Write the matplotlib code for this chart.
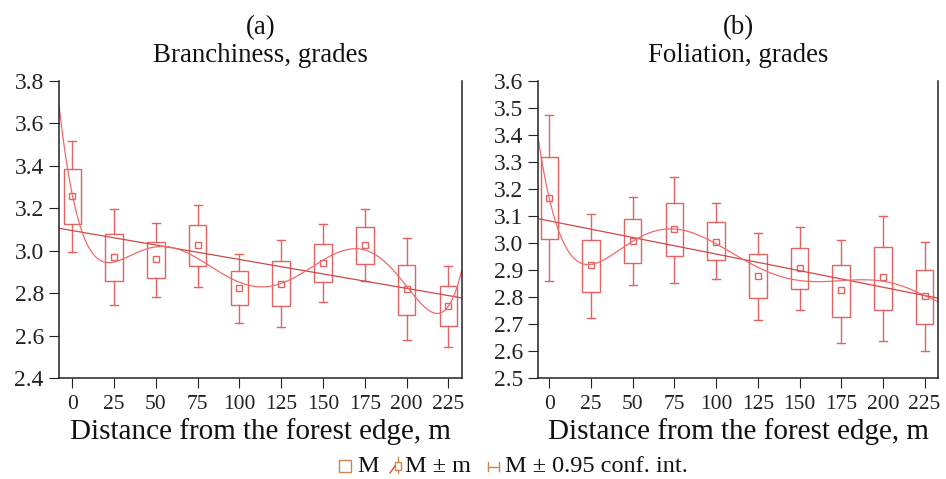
import numpy as np
import matplotlib
matplotlib.use("Agg")
import matplotlib.pyplot as plt
from matplotlib.lines import Line2D
from matplotlib.patches import Rectangle

plt.rcParams['font.family'] = ['Liberation Serif', 'DejaVu Serif']

dist = [0, 25, 50, 75, 100, 125, 150, 175, 200, 225]

# (a) branchiness: mean, mean +- se, mean +- 0.95 ci
a_mean = [3.257, 2.972, 2.960, 3.025, 2.826, 2.845, 2.944, 3.025, 2.820, 2.740]
a_se_lo = [3.126, 2.859, 2.869, 2.928, 2.742, 2.738, 2.850, 2.938, 2.698, 2.644]
a_se_hi = [3.386, 3.080, 3.043, 3.119, 2.903, 2.949, 3.033, 3.110, 2.934, 2.833]
a_ci_lo = [2.996, 2.745, 2.782, 2.831, 2.660, 2.638, 2.757, 2.856, 2.577, 2.546]
a_ci_hi = [3.516, 3.196, 3.130, 3.214, 2.986, 3.052, 3.126, 3.195, 3.058, 2.928]

# (b) foliation
b_mean = [3.166, 2.918, 3.009, 3.051, 3.005, 2.879, 2.907, 2.825, 2.872, 2.803]
b_se_lo = [3.013, 2.820, 2.926, 2.952, 2.935, 2.797, 2.829, 2.726, 2.753, 2.701]
b_se_hi = [3.319, 3.010, 3.090, 3.148, 3.077, 2.959, 2.982, 2.919, 2.984, 2.899]
b_ci_lo = [2.858, 2.721, 2.845, 2.853, 2.865, 2.716, 2.751, 2.631, 2.637, 2.598]
b_ci_hi = [3.475, 3.106, 3.172, 3.244, 3.148, 3.038, 3.060, 3.012, 3.101, 3.003]

red = '#e06464'
fitred = '#d04848'
curvered = '#f06a6a'
orange = '#c8864a'


def panel(ax, mean, se_lo, se_hi, ci_lo, ci_hi, ylim, yticks, xlim, letter, name):
    x = np.array(dist, dtype=float)
    w = 10.5
    for xi, m, sl, sh, cl, ch in zip(x, mean, se_lo, se_hi, ci_lo, ci_hi):
        ax.add_patch(Rectangle((xi - w / 2, sl), w, sh - sl, fill=False,
                               ec=red, lw=1.0))
        ax.plot([xi, xi], [sh, ch], color=red, lw=1.0)
        ax.plot([xi, xi], [cl, sl], color=red, lw=1.0)
        ax.plot([xi - 2.4, xi + 2.4], [ch, ch], color=red, lw=1.0)
        ax.plot([xi - 2.4, xi + 2.4], [cl, cl], color=red, lw=1.0)
    ax.plot(x, mean, 's', ms=4.5, mfc='none', mec=red, mew=1.0)

    xx = np.linspace(xlim[0], xlim[1], 400)
    k = np.polyfit(x, mean, 1)
    ax.plot(xx, np.polyval(k, xx), color=fitred, lw=0.9)
    p = np.polyfit(x, mean, 6)
    ax.plot(xx, np.polyval(p, xx), color=curvered, lw=0.9)

    ax.set_xlim(xlim)
    ax.set_ylim(ylim)
    ax.set_yticks(yticks)
    ax.set_yticklabels([f'{t:.1f}' for t in yticks])
    ax.set_xticks(dist)
    ax.spines['top'].set_visible(False)
    for s in ['left', 'bottom', 'right']:
        ax.spines[s].set_color('#222222')
        ax.spines[s].set_linewidth(1.1)
    ax.tick_params(axis='y', direction='out', length=7, pad=4, labelsize=17,
                   color='#222222', labelcolor='#222222')
    ax.tick_params(axis='x', direction='out', length=7, pad=5, labelsize=15.5,
                   color='#222222', labelcolor='#222222')
    ax.text(0.5, 1.158, letter, transform=ax.transAxes, ha='center',
            va='baseline', fontsize=19.4, color='#111111')
    ax.text(0.5, 1.064, name, transform=ax.transAxes, ha='center',
            va='baseline', fontsize=19.4, color='#111111')
    ax.set_xlabel('Distance from the forest edge, m', fontsize=21, color='#111111')
    ax.xaxis.label.set_va('baseline')
    ax.xaxis.set_label_coords(0.5, -0.205)


fig = plt.figure(figsize=(9.46, 4.79), dpi=100)
ax1 = fig.add_axes([0.0624, 0.211, 0.4256, 0.62])
ax2 = fig.add_axes([0.569, 0.211, 0.4225, 0.62])

panel(ax1, a_mean, a_se_lo, a_se_hi, a_ci_lo, a_ci_hi, (2.4, 3.8),
      np.arange(2.4, 3.81, 0.2), (-8, 233), '(a)', 'Branchiness, grades')
panel(ax2, b_mean, b_se_lo, b_se_hi, b_ci_lo, b_ci_hi, (2.5, 3.6),
      np.arange(2.5, 3.61, 0.1), (-6.6, 233), '(b)', 'Foliation, grades')

# legend at the bottom, drawn in figure pixels
W, H = 946, 479


def fx(px):
    return px / W


def fy(py):
    return 1 - py / H


def seg(x0, y0, x1, y1, c=orange):
    fig.add_artist(Line2D([fx(x0), fx(x1)], [fy(y0), fy(y1)], color=c,
                          lw=1.0, transform=fig.transFigure))


base = 472
fig.add_artist(Rectangle((fx(339), fy(472)), 12 / W, 12 / H, fill=False,
                         ec=orange, lw=1.0, transform=fig.transFigure))
fig.text(fx(357), fy(base), 'M', fontsize=17.5, va='baseline', color='#111111')

fig.add_artist(Rectangle((fx(395), fy(470)), 6 / W, 8 / H, fill=False,
                         ec=orange, lw=1.0, transform=fig.transFigure))
seg(398, 462, 398, 457)
seg(398, 470, 398, 473)
seg(390, 473, 395, 466, '#e8501a')
fig.text(fx(405), fy(base), 'M \u00b1 m', fontsize=17.5, va='baseline', color='#111111')

seg(488, 467, 499, 467)
seg(488, 462, 488, 471)
seg(499, 462, 499, 471)
fig.text(fx(505), fy(base), 'M \u00b1 0.95 conf. int.', fontsize=17.5,
         va='baseline', color='#111111')

fig.savefig('out.png', dpi=100)
